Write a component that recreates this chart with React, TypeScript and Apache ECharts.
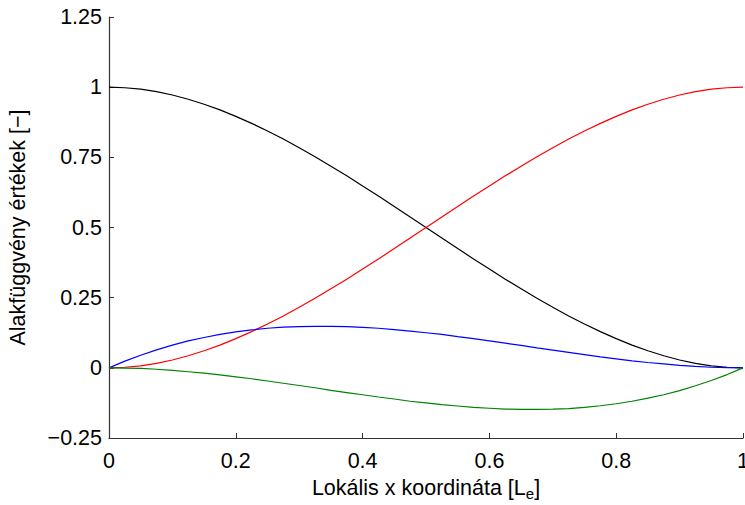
import React, { useEffect, useRef } from "react";
import * as echarts from "echarts";

const xs = [0, 0.025, 0.05, 0.075, 0.1, 0.125, 0.15, 0.175, 0.2, 0.225, 0.25, 0.275, 0.3, 0.325, 0.35, 0.375, 0.4, 0.425, 0.45, 0.475, 0.5, 0.525, 0.55, 0.575, 0.6, 0.625, 0.65, 0.675, 0.7, 0.725, 0.75, 0.775, 0.8, 0.825, 0.85, 0.875, 0.9, 0.925, 0.95, 0.975, 1];
const black = [1, 0.998, 0.993, 0.984, 0.972, 0.957, 0.939, 0.919, 0.896, 0.871, 0.844, 0.815, 0.784, 0.752, 0.718, 0.684, 0.648, 0.612, 0.575, 0.537, 0.5, 0.463, 0.425, 0.388, 0.352, 0.316, 0.282, 0.248, 0.216, 0.185, 0.156, 0.129, 0.104, 0.081, 0.061, 0.043, 0.028, 0.016, 0.007, 0.002, 0];
const red = [0, 0.002, 0.007, 0.016, 0.028, 0.043, 0.061, 0.081, 0.104, 0.129, 0.156, 0.185, 0.216, 0.248, 0.282, 0.316, 0.352, 0.388, 0.425, 0.463, 0.5, 0.537, 0.575, 0.612, 0.648, 0.684, 0.718, 0.752, 0.784, 0.815, 0.844, 0.871, 0.896, 0.919, 0.939, 0.957, 0.972, 0.984, 0.993, 0.998, 1];
const blue = [0, 0.024, 0.045, 0.064, 0.081, 0.096, 0.108, 0.119, 0.128, 0.135, 0.141, 0.145, 0.147, 0.148, 0.148, 0.147, 0.144, 0.141, 0.136, 0.131, 0.125, 0.119, 0.111, 0.104, 0.096, 0.088, 0.08, 0.071, 0.063, 0.055, 0.047, 0.039, 0.032, 0.025, 0.019, 0.014, 0.009, 0.005, 0.002, 0.001, 0];
const green = [0, -0.001, -0.002, -0.005, -0.009, -0.014, -0.019, -0.025, -0.032, -0.039, -0.047, -0.055, -0.063, -0.071, -0.08, -0.088, -0.096, -0.104, -0.111, -0.119, -0.125, -0.131, -0.136, -0.141, -0.144, -0.147, -0.148, -0.148, -0.147, -0.145, -0.141, -0.135, -0.128, -0.119, -0.108, -0.096, -0.081, -0.064, -0.045, -0.024, 0];
const xTicks = [0, 0.2, 0.4, 0.6, 0.8, 1];
const yTicks = [-0.25, 0, 0.25, 0.5, 0.75, 1, 1.25];

const FONT = "'Liberation Sans', Arial, Helvetica, sans-serif";
const FS = 21.5;

export default function App() {
  const ref = useRef<HTMLDivElement>(null);
  useEffect(() => {
    if (!ref.current) return;
    const chart = echarts.init(ref.current, null, { renderer: "svg" });
    const mk = (ys: number[], color: string) => ({
      type: "line",
      data: xs.map((x, i) => [x, ys[i]]),
      smooth: false,
      showSymbol: false,
      symbol: "none",
      lineStyle: { color, width: 1.2 },
    });
    const axisCommon = {
      axisLine: { show: true, onZero: false, lineStyle: { color: "#333", width: 1.2 } },
      axisTick: { show: true, inside: true, length: 5, lineStyle: { color: "#333" } },
      splitLine: { show: false },
      axisLabel: { color: "#000", fontSize: FS, fontFamily: FONT },
      nameTextStyle: { color: "#000", fontSize: FS, fontFamily: FONT },
    };
    chart.setOption({
      animation: false,
      backgroundColor: "#fff",
      grid: { left: 109, right: 2, top: 17, bottom: 67, containLabel: false, outerBoundsMode: "none" },
      xAxis: {
        type: "value",
        min: 0,
        max: 1,
        interval: 0.2,
        ...axisCommon,
        axisLabel: {
          ...axisCommon.axisLabel,
          margin: 12,
          formatter: (v: number) => {
            const t = xTicks.find((k) => Math.abs(k - v) < 1e-9);
            return t === undefined ? "" : String(t);
          },
        },
        name: "{a|Lokális x koordináta [L}{s|e}{a|]}",
        nameLocation: "middle",
        nameGap: 36,
        nameTextStyle: {
          ...axisCommon.nameTextStyle,
          rich: {
            a: { fontSize: FS, fontFamily: FONT, color: "#000" },
            s: { fontSize: 15, fontFamily: FONT, color: "#000", verticalAlign: "bottom", padding: [12, 0, 0, 0] },
          },
        },
      },
      yAxis: {
        type: "value",
        min: -0.25,
        max: 1.25,
        interval: 0.25,
        ...axisCommon,
        axisLabel: {
          ...axisCommon.axisLabel,
          margin: 7,
          formatter: (v: number) => {
            const t = yTicks.find((k) => Math.abs(k - v) < 1e-9);
            if (t === undefined) return "";
            return t < 0 ? "\u2212" + String(-t) : String(t);
          },
        },
        name: "Alakfüggvény értékek [\u2212]",
        nameLocation: "middle",
        nameGap: 80,
      },
      series: [mk(black, "#000"), mk(red, "#ff0000"), mk(blue, "#0000ff"), mk(green, "#008000")],
    });
    return () => chart.dispose();
  }, []);
  return <div ref={ref} style={{ width: 745, height: 505, position: "absolute", left: 0, top: 0 }} />;
}
